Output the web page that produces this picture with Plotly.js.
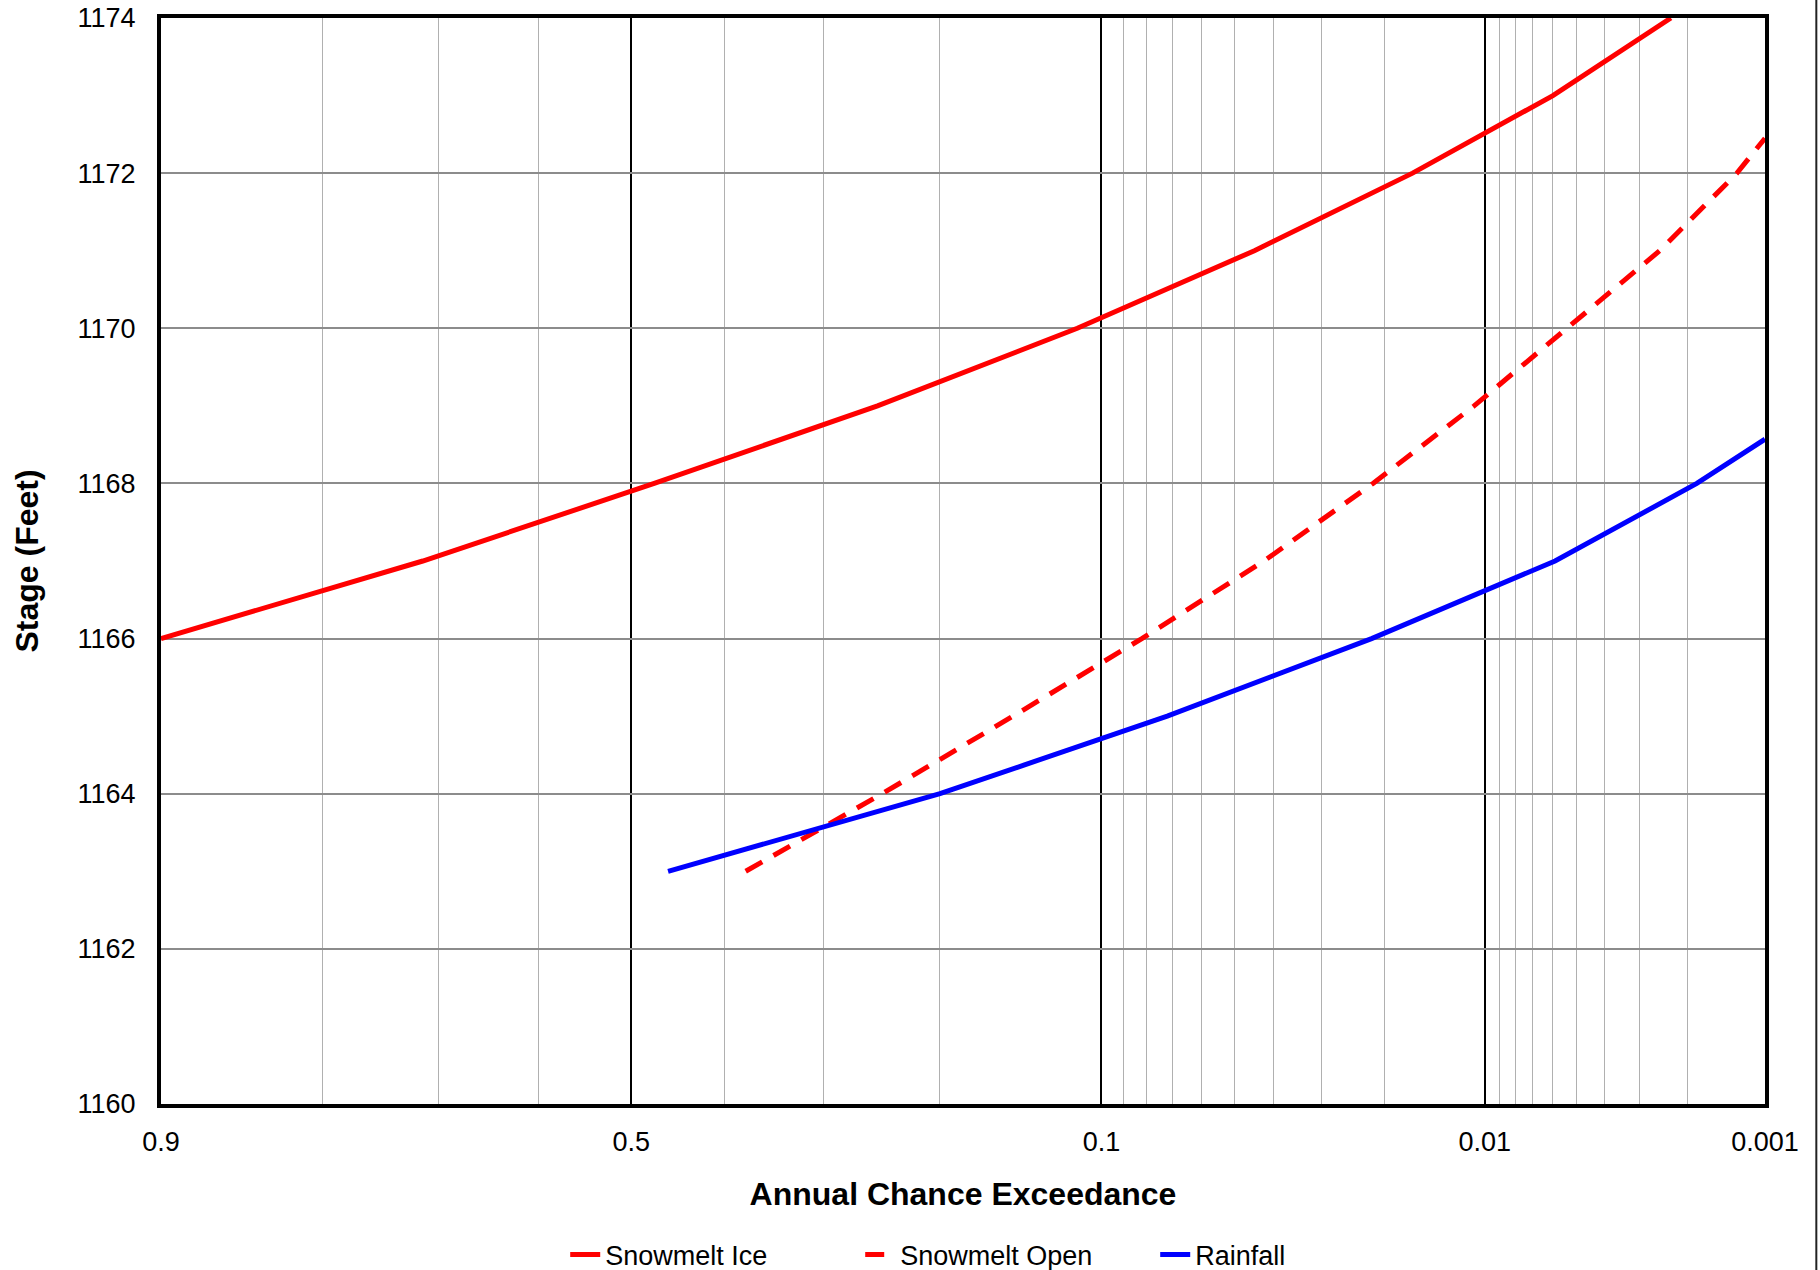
<!DOCTYPE html>
<html>
<head>
<meta charset="utf-8">
<script src="https://cdn.plot.ly/plotly-3.0.1.min.js"></script>
<style>
  html, body { margin: 0; padding: 0; background: #ffffff; }
  #chart { width: 1820px; height: 1270px; }
</style>
</head>
<body>
<div id="chart"></div>
<script>
// ---- Data (annual chance exceedance vs stage, feet) ----
const iceAEP    = [0.9, 0.715, 0.475, 0.251, 0.112, 0.0447, 0.0166, 0.006, 0.0023];
const iceStage  = [1166, 1167, 1168, 1169, 1170, 1171, 1172, 1173, 1174];

const openAEP   = [0.3775, 0.247, 0.149, 0.082, 0.0423, 0.0216, 0.0108, 0.00535, 0.00253, 0.00129, 0.001];
const openStage = [1163, 1164, 1165, 1166, 1167, 1168, 1169, 1170, 1171, 1172, 1172.45];

const rainAEP   = [0.46, 0.2, 0.072, 0.0218, 0.0059, 0.00184, 0.001];
const rainStage = [1163, 1164, 1165, 1166, 1167, 1168, 1168.57];

const majorTicks  = [0.9, 0.5, 0.1, 0.01, 0.001];
const majorLabels = ['0.9', '0.5', '0.1', '0.01', '0.001'];
const minorTicks  = [0.8, 0.7, 0.6, 0.4, 0.3, 0.2,
                     0.09, 0.08, 0.07, 0.06, 0.05, 0.04, 0.03, 0.02,
                     0.009, 0.008, 0.007, 0.006, 0.005, 0.004, 0.003, 0.002];
const stageTicks  = [1160, 1162, 1164, 1166, 1168, 1170, 1172, 1174];

// ---- Normal probability scale: exceedance p -> standard normal quantile of (1-p) ----
function normInv(q) {
  const a = [-3.969683028665376e+01, 2.209460984245205e+02, -2.759285104469687e+02,
             1.383577518672690e+02, -3.066479806614716e+01, 2.506628277459239e+00];
  const b = [-5.447609879822406e+01, 1.615858368580409e+02, -1.556989798598866e+02,
             6.680131188771972e+01, -1.328068155288572e+01];
  const c = [-7.784894002430293e-03, -3.223964580411365e-01, -2.400758277161838e+00,
             -2.549732539343734e+00, 4.374664141464968e+00, 2.938163982698783e+00];
  const d = [7.784695709041462e-03, 3.224671290700398e-01, 2.445134137142996e+00,
             3.754408661907416e+00];
  const pl = 0.02425, ph = 1 - pl;
  let x, r;
  if (q < pl) {
    x = Math.sqrt(-2 * Math.log(q));
    return (((((c[0]*x+c[1])*x+c[2])*x+c[3])*x+c[4])*x+c[5]) /
           ((((d[0]*x+d[1])*x+d[2])*x+d[3])*x+1);
  } else if (q <= ph) {
    x = q - 0.5; r = x * x;
    return (((((a[0]*r+a[1])*r+a[2])*r+a[3])*r+a[4])*r+a[5])*x /
           (((((b[0]*r+b[1])*r+b[2])*r+b[3])*r+b[4])*r+1);
  } else {
    x = Math.sqrt(-2 * Math.log(1 - q));
    return -(((((c[0]*x+c[1])*x+c[2])*x+c[3])*x+c[4])*x+c[5]) /
            ((((d[0]*x+d[1])*x+d[2])*x+d[3])*x+1);
  }
}
const zOf = p => normInv(1 - p);

const FONT = 'Liberation Sans, Arial, Helvetica, sans-serif';

const traces = [
  { name: 'Snowmelt Ice', x: iceAEP.map(zOf), y: iceStage, type: 'scatter', mode: 'lines',
    line: { color: '#ff0000', width: 5 }, customdata: iceAEP,
    hovertemplate: 'ACE %{customdata}<br>%{y} ft<extra>Snowmelt Ice</extra>' },
  { name: 'Snowmelt Open', x: openAEP.map(zOf), y: openStage, type: 'scatter', mode: 'lines',
    line: { color: '#ff0000', width: 5, dash: '19px,13px' }, customdata: openAEP,
    hovertemplate: 'ACE %{customdata}<br>%{y} ft<extra>Snowmelt Open</extra>' },
  { name: 'Rainfall', x: rainAEP.map(zOf), y: rainStage, type: 'scatter', mode: 'lines',
    line: { color: '#0000ff', width: 5 }, customdata: rainAEP,
    hovertemplate: 'ACE %{customdata}<br>%{y} ft<extra>Rainfall</extra>' }
];

const layout = {
  width: 1820, height: 1270,
  paper_bgcolor: '#ffffff', plot_bgcolor: '#ffffff',
  margin: { l: 161, r: 55, t: 18, b: 166, autoexpand: false },
  font: { family: FONT, size: 27, color: '#000000' },
  showlegend: true,
  legend: {
    orientation: 'h', x: 0.252, xanchor: 'left', y: -0.139, yanchor: 'middle',
    font: { family: FONT, size: 27, color: '#000000' },
    entrywidth: 250, bgcolor: 'rgba(0,0,0,0)'
  },
  xaxis: {
    range: [zOf(0.9), zOf(0.001)],
    tickmode: 'array',
    tickvals: majorTicks.map(zOf),
    ticktext: majorLabels,
    ticks: '', ticklabelstandoff: 11,
    tickfont: { family: FONT, size: 27, color: '#000000' },
    showgrid: true, gridcolor: '#000000', gridwidth: 2,
    minor: { tickmode: 'array', tickvals: minorTicks.map(zOf), showgrid: true,
             gridcolor: '#b0b0b0', gridwidth: 1.2, ticks: '' },
    zeroline: false, automargin: false,
    showline: true, linecolor: '#000000', linewidth: 4, mirror: true,
    title: { text: '<b>Annual Chance Exceedance</b>', standoff: 27,
             font: { family: FONT, size: 32, color: '#000000' } }
  },
  yaxis: {
    range: [1160, 1174],
    tickmode: 'array', tickvals: stageTicks,
    ticks: '', ticklabelstandoff: 16,
    tickfont: { family: FONT, size: 27, color: '#000000' },
    showgrid: true, gridcolor: '#8c8c8c', gridwidth: 2,
    zeroline: false, automargin: false,
    showline: true, linecolor: '#000000', linewidth: 4, mirror: true,
    title: { text: '<b>Stage (Feet)</b>', standoff: 30,
             font: { family: FONT, size: 32, color: '#000000' } }
  },
  shapes: [
    { type: 'line', xref: 'paper', yref: 'paper', x0: 1.032, x1: 1.032, y0: -0.153, y1: 1.02,
      line: { color: '#222222', width: 2 } }
  ]
};

Plotly.newPlot('chart', traces, layout, { displayModeBar: false, staticPlot: false });
</script>
</body>
</html>
